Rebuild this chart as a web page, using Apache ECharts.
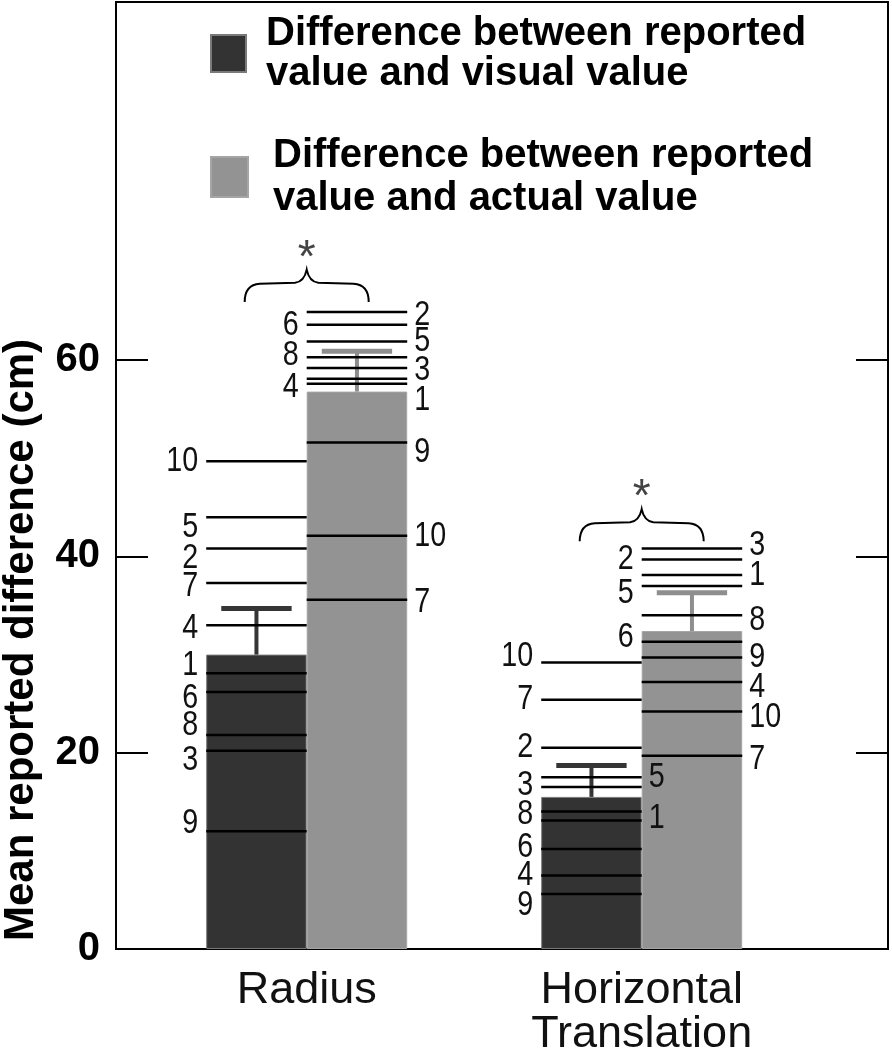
<!DOCTYPE html>
<html>
<head>
<meta charset="utf-8">
<script src="https://cdn.jsdelivr.net/npm/echarts@6/dist/echarts.min.js"></script>
<style>
html, body { margin: 0; padding: 0; background: #fff; }
#main { width: 892px; height: 1050px; }
</style>
</head>
<body>
<div id="main"></div>
<script>
// data
var categories = ['Radius', 'Horizontal\nTranslation']
var visualMean = [30.0, 15.5]
var visualErr = [34.7, 18.7]
var actualMean = [56.8, 32.4]
var actualErr = [60.9, 36.3]
// one value per participant, P1 .. P10
var radiusVisual = [28.1, 40.8, 20.2, 33.0, 44.0, 26.2, 37.3, 21.8, 12.0, 49.7]
var radiusActual = [58.1, 64.9, 59.2, 57.6, 61.9, 63.6, 35.6, 60.3, 51.6, 42.1]
var transVisual = [13.1, 20.5, 16.5, 7.5, 17.5, 10.2, 25.4, 14.0, 5.6, 29.2]
var transActual = [38.1, 39.7, 40.8, 27.2, 37.0, 31.3, 19.7, 34.0, 29.7, 24.2]
var braceAt = [65.9, 41.5]
var yTicks = [0, 20, 40, 60]
var yMax = 96.5

var nameVisual = 'Difference between reported value and visual value'
var nameActual = 'Difference between reported value and actual value'

// labels that sit on the other side of their line
var flipSide = { '0-1': [4, 6, 8], '1-0': [1, 5], '1-1': [2, 5, 6] }
// small vertical nudges (px) where labels were spread apart
var nudge = {
    '0-0': { 1: -8, 2: 10, 3: 10, 4: 3, 5: 10, 6: 6, 7: 3, 8: -10, 9: -8 },
    '0-1': { 1: 22, 2: 3, 3: 2, 4: 4, 7: 3, 8: -2, 9: 10 },
    '1-0': { 1: -2, 3: -2, 6: -2, 8: 3, 9: 11, 10: -6 },
    '1-1': { 3: -3, 4: 5, 5: 7, 6: -4, 7: 4, 8: 5, 10: 6 }
}
var barFrac = 0.3

var lineItems = []
function addLines(arr, cat, side) {
    arr.forEach(function (v, i) {
        lineItems.push({ cat: cat, side: side, value: v, label: i + 1 })
    })
}
addLines(radiusVisual, 0, 0)
addLines(radiusActual, 0, 1)
addLines(transVisual, 1, 0)
addLines(transActual, 1, 1)

var errItems = [
    { cat: 0, side: 0, mean: visualMean[0], err: visualErr[0], color: '#353535' },
    { cat: 1, side: 0, mean: visualMean[1], err: visualErr[1], color: '#353535' },
    { cat: 0, side: 1, mean: actualMean[0], err: actualErr[0], color: '#8e8e8e' },
    { cat: 1, side: 1, mean: actualMean[1], err: actualErr[1], color: '#8e8e8e' }
]

function renderLine(params, api) {
    var d = lineItems[params.dataIndex]
    var key = d.cat + '-' + d.side
    var p = api.coord([d.cat, d.value])
    var w = api.size([1, 0])[0] * barFrac
    var x0 = d.side === 0 ? p[0] - w : p[0]
    var flipped = (flipSide[key] || []).indexOf(d.label) >= 0
    var onLeft = (d.side === 0) !== flipped
    var dy = (nudge[key] && nudge[key][d.label]) || 0
    return {
        type: 'group',
        children: [{
            type: 'line',
            shape: { x1: x0, y1: p[1], x2: x0 + w, y2: p[1] },
            style: { stroke: '#000', lineWidth: 2.5 }
        }, {
            type: 'text',
            x: onLeft ? x0 - 8 : x0 + w + 7,
            y: p[1] + dy,
            scaleX: 0.82,
            style: {
                text: String(d.label),
                align: onLeft ? 'right' : 'left',
                verticalAlign: 'middle',
                fontSize: 35,
                fontFamily: '"Liberation Sans", Arial',
                fill: '#111'
            }
        }]
    }
}

function renderErr(params, api) {
    var d = errItems[params.dataIndex]
    var top = api.coord([d.cat, d.err])
    var base = api.coord([d.cat, d.mean])
    var w = api.size([1, 0])[0] * barFrac
    var cx = d.side === 0 ? top[0] - w / 2 : top[0] + w / 2
    return {
        type: 'group',
        children: [{
            type: 'line',
            shape: { x1: cx, y1: base[1], x2: cx, y2: top[1] },
            style: { stroke: d.color, lineWidth: 4 }
        }, {
            type: 'line',
            shape: { x1: cx - w * 0.35, y1: top[1], x2: cx + w * 0.35, y2: top[1] },
            style: { stroke: d.color, lineWidth: 5 }
        }]
    }
}

var bracePath = 'M0 32 Q0 15 15 14 L50 13 Q59 12 61.5 0 Q64 12 73 13 L108 14 Q123 15 123 32'
function renderBrace(params, api) {
    var p = api.coord([params.dataIndex, braceAt[params.dataIndex]])
    var bw = 124, bh = 33
    return {
        type: 'group',
        children: [{
            type: 'path',
            shape: { pathData: bracePath, x: p[0] - bw / 2, y: p[1] - bh, width: bw, height: bh },
            style: { stroke: '#000', fill: null, lineWidth: 2 }
        }, {
            type: 'text',
            x: p[0],
            y: p[1] - bh - 10,
            style: {
                text: '*',
                align: 'center',
                verticalAlign: 'middle',
                fontSize: 46,
                fontFamily: '"Liberation Sans", Arial',
                fill: '#444'
            }
        }]
    }
}

var myChart = echarts.init(document.getElementById('main'))
myChart.setOption({
    animation: false,
    backgroundColor: '#fff',
    legend: [{
        data: [nameVisual],
        selectedMode: false,
        orient: 'vertical',
        left: 210,
        top: -1.5,
        padding: 0,
        itemWidth: 35,
        itemHeight: 37,
        icon: 'rect',
        formatter: function (n) { return n.replace('reported ', 'reported\n') },
        textStyle: {
            fontFamily: '"Liberation Sans", Arial',
            fontWeight: 'bold',
            fontSize: 40,
            lineHeight: 40,
            color: '#000',
            padding: [30, 0, 0, 15]
        }
    }, {
        data: [nameActual],
        selectedMode: false,
        orient: 'vertical',
        left: 210,
        top: 134,
        padding: 0,
        itemWidth: 37,
        itemHeight: 40,
        icon: 'rect',
        formatter: function (n) { return n.replace('reported ', 'reported\n') },
        textStyle: {
            fontFamily: '"Liberation Sans", Arial',
            fontWeight: 'bold',
            fontSize: 40,
            lineHeight: 43,
            color: '#000',
            padding: [0, 0, 0, 20]
        }
    }],
    grid: [{
        left: 139.2, right: 82.8, top: 2, bottom: 101,
        outerBoundsMode: 'none'
    }, {
        left: 116, right: 4, top: 2, bottom: 101,
        show: true, borderColor: '#000', borderWidth: 2,
        outerBoundsMode: 'none'
    }],
    xAxis: [{
        type: 'category',
        gridIndex: 0,
        data: categories,
        axisLine: { show: false },
        axisTick: { show: false },
        axisLabel: {
            margin: 20,
            fontFamily: '"Liberation Sans", Arial',
            fontSize: 45,
            lineHeight: 44,
            color: '#111'
        }
    }, {
        type: 'value',
        gridIndex: 1,
        show: false
    }],
    yAxis: [{
        type: 'value',
        gridIndex: 1,
        min: 0,
        max: yMax,
        name: 'Mean reported difference (cm)',
        nameLocation: 'middle',
        nameRotate: 90,
        nameGap: 74,
        nameTextStyle: {
            fontFamily: '"Liberation Sans", Arial',
            fontWeight: 'bold',
            fontSize: 42,
            color: '#000',
            padding: [0, 329, 0, 0]
        },
        axisLine: { show: true, lineStyle: { color: '#000', width: 2 } },
        axisTick: { show: true, inside: true, length: 32, customValues: yTicks, lineStyle: { color: '#000', width: 2 } },
        axisLabel: {
            customValues: yTicks,
            margin: 16,
            fontFamily: '"Liberation Sans", Arial',
            fontWeight: 'bold',
            fontSize: 40,
            color: '#000'
        },
        splitLine: { show: false }
    }, {
        type: 'value',
        gridIndex: 1,
        position: 'right',
        min: 0,
        max: yMax,
        axisLine: { show: true, lineStyle: { color: '#000', width: 2 } },
        axisTick: { show: true, inside: true, length: 32, customValues: yTicks.slice(1), lineStyle: { color: '#000', width: 2 } },
        axisLabel: { show: false },
        splitLine: { show: false }
    }, {
        type: 'value',
        gridIndex: 0,
        min: 0,
        max: yMax,
        show: false,
        splitLine: { show: false }
    }],
    series: [{
        name: nameVisual,
        type: 'bar',
        xAxisIndex: 0,
        yAxisIndex: 2,
        barWidth: '30%',
        barGap: '0%',
        itemStyle: { color: '#333333', borderColor: '#7a7a7a', borderWidth: 1 },
        data: visualMean,
        z: 2
    }, {
        name: nameActual,
        type: 'bar',
        xAxisIndex: 0,
        yAxisIndex: 2,
        barWidth: '30%',
        barGap: '0%',
        itemStyle: { color: '#939393', borderColor: '#a5a5a5', borderWidth: 1 },
        data: actualMean,
        z: 2
    }, {
        type: 'custom',
        xAxisIndex: 0,
        yAxisIndex: 2,
        renderItem: renderErr,
        data: errItems.map(function (d) { return [d.cat, d.err] }),
        z: 3
    }, {
        type: 'custom',
        xAxisIndex: 0,
        yAxisIndex: 2,
        renderItem: renderLine,
        data: lineItems.map(function (d) { return [d.cat, d.value] }),
        z: 4
    }, {
        type: 'custom',
        xAxisIndex: 0,
        yAxisIndex: 2,
        renderItem: renderBrace,
        data: braceAt.map(function (v, i) { return [i, v] }),
        z: 4
    }]
})
</script>
</body>
</html>
